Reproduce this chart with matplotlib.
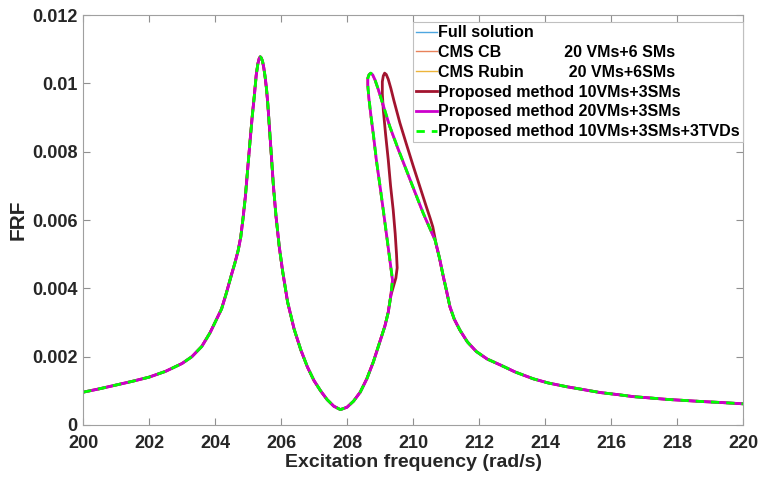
import numpy as np
import matplotlib as mpl
import matplotlib.pyplot as plt

mpl.rcParams['font.family'] = ['Liberation Sans', 'DejaVu Sans']
mpl.rcParams['font.weight'] = 'bold'
mpl.rcParams['axes.labelweight'] = 'bold'

# 共同部分: 200 rad/s 到第二个峰的左支
freq_head = [200.0, 200.5, 201.0, 201.5, 202.0, 202.5, 203.0, 203.3, 203.6, 203.85,
             204.05, 204.2, 204.35, 204.5, 204.6, 204.7, 204.78, 204.85, 204.92, 205.0,
             205.07, 205.13, 205.19, 205.25, 205.3, 205.34, 205.37, 205.4, 205.44,
             205.48, 205.52, 205.56, 205.6, 205.65, 205.7, 205.77, 205.85, 205.95,
             206.05, 206.2, 206.4, 206.6, 206.8, 207.0, 207.2, 207.4, 207.6, 207.8,
             208.0, 208.2, 208.4, 208.6, 208.8, 209.0, 209.15, 209.25, 209.33]
frf_head = [0.00096, 0.00106, 0.00117, 0.00128, 0.00140, 0.00157, 0.00180, 0.00200,
            0.00230, 0.00270, 0.00310, 0.00340, 0.00388, 0.00440, 0.00473, 0.00510,
            0.00550, 0.00605, 0.00668, 0.00760, 0.00840, 0.00905, 0.00962, 0.01025,
            0.01058, 0.01073, 0.01078, 0.01075, 0.01065, 0.01045, 0.01018, 0.00985,
            0.00940, 0.00870, 0.00800, 0.00700, 0.00610, 0.00520, 0.00450, 0.00360,
            0.00280, 0.00220, 0.00170, 0.00130, 0.00100, 0.00074, 0.00055, 0.00045,
            0.00052, 0.00070, 0.00096, 0.00135, 0.00185, 0.00245, 0.00290, 0.00330,
            0.00380]

# 参考解/CMS 的回环
freq_loop = [209.38, 209.3, 209.2, 209.1, 209.0, 208.89, 208.8, 208.72, 208.66, 208.63,
             208.63, 208.67, 208.72, 208.78, 208.85, 208.95, 209.1, 209.3, 209.55,
             209.8, 210.05, 210.31, 210.5, 210.67, 210.8, 210.92]
frf_loop = [0.00424, 0.00483, 0.00556, 0.00629, 0.00700, 0.00776, 0.00850, 0.00910,
            0.00960, 0.00995, 0.01015, 0.01026, 0.01030, 0.01025, 0.01010, 0.00982,
            0.00935, 0.00873, 0.00808, 0.00746, 0.00684, 0.00620, 0.00578, 0.00541,
            0.00490, 0.00434]

# 10VMs+3SMs 的回环
freq_loop_10vm = [209.42, 209.48, 209.52, 209.5, 209.46, 209.4, 209.32, 209.25, 209.17,
                  209.1, 209.07, 209.07, 209.1, 209.14, 209.19, 209.25, 209.33, 209.42,
                  209.6, 209.8, 210.0, 210.2, 210.4, 210.52, 210.6, 210.65, 210.7,
                  210.8, 210.92]
frf_loop_10vm = [0.00410, 0.00430, 0.00460, 0.00500, 0.00560, 0.00629, 0.00700,
                 0.00776, 0.00850, 0.00922, 0.00970, 0.01005, 0.01022, 0.01030,
                 0.01026, 0.01012, 0.00985, 0.00950, 0.00885, 0.00822, 0.00760,
                 0.00700, 0.00640, 0.00605, 0.00580, 0.00555, 0.00530, 0.00490,
                 0.00434]

# 右侧尾部
freq_tail = [211.0, 211.12, 211.25, 211.42, 211.65, 211.92, 212.25, 212.64, 213.1,
             213.65, 214.1, 214.66, 215.2, 215.67, 216.2, 216.68, 217.2, 217.69,
             218.2, 218.7, 219.3, 220.0]
frf_tail = [0.00400, 0.00346, 0.00310, 0.00278, 0.00243, 0.00215, 0.00193, 0.00176,
            0.00155, 0.00135, 0.00123, 0.00112, 0.00103, 0.00095, 0.00089, 0.00083,
            0.00079, 0.00075, 0.00072, 0.00069, 0.00066, 0.00062]

f_ref = np.array(freq_head + freq_loop + freq_tail)
y_ref = np.array(frf_head + frf_loop + frf_tail)
f_10 = np.array(freq_head + freq_loop_10vm + freq_tail)
y_10 = np.array(frf_head + frf_loop_10vm + frf_tail)

labels = ["Full solution",
          "CMS CB              20 VMs+6 SMs",
          "CMS Rubin          20 VMs+6SMs",
          "Proposed method 10VMs+3SMs",
          "Proposed method 20VMs+3SMs",
          "Proposed method 10VMs+3SMs+3TVDs"]

fig = plt.figure(figsize=(7.63, 4.8), dpi=100, facecolor='w')
ax = fig.add_axes([0.1088, 0.1146, 0.865, 0.854])

ax.plot(f_ref, y_ref, color='#4DA6E0', lw=1.0, label=labels[0])
ax.plot(f_ref - 0.02, y_ref, color='#E8825A', lw=1.0, label=labels[1])
ax.plot(f_ref - 0.02, y_ref, color='#EDB43A', lw=1.0, label=labels[2])
ax.plot(f_10, y_10, color='#A2142F', lw=2.0, label=labels[3])
ax.plot(f_ref, y_ref, color='#CC00CC', lw=2.0, label=labels[4])
ax.plot(f_ref, y_ref, '--', color='#00FF00', lw=2.0, dashes=(3, 2.5), label=labels[5])

ax.set_xlim(200, 220)
ax.set_ylim(0, 0.012)
ax.set_xticks(np.arange(200, 221, 2))
ax.set_yticks(np.arange(0, 0.0121, 0.002))
ax.set_yticklabels(['0', '0.002', '0.004', '0.006', '0.008', '0.01', '0.012'])
ax.tick_params(direction='in', top=True, right=True, length=5, width=0.8,
               color='#909090', labelsize=13, labelcolor='#262626')
ax.tick_params(axis='x', pad=7)
ax.tick_params(axis='y', pad=4)
for s in ax.spines.values():
    s.set_color('#A0A0A0')
    s.set_linewidth(0.8)

ax.set_xlabel("Excitation frequency (rad/s)", fontsize=14, color='#262626', labelpad=2)
ax.set_ylabel("FRF", fontsize=15, color='#262626', labelpad=3)

leg = ax.legend(loc='upper right', bbox_to_anchor=(1.0, 0.983), fontsize=11.5,
                handlelength=1.3, handletextpad=0.1, borderaxespad=0.0,
                borderpad=0.2, labelspacing=0.3, fancybox=False,
                framealpha=1, edgecolor='#C0C0C0')
leg.get_frame().set_linewidth(0.8)

plt.savefig("out.png", dpi=100, facecolor='w')
